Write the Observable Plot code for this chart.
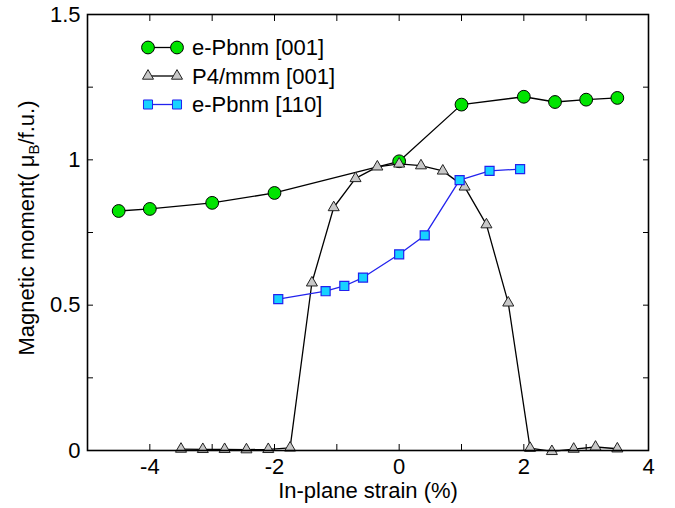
<!DOCTYPE html>
<html><head><meta charset="utf-8">
<script src="https://cdn.jsdelivr.net/npm/d3@7"></script>
<script src="https://cdn.jsdelivr.net/npm/@observablehq/plot@0.6"></script>
<style>body{margin:0;background:#fff}</style>
</head><body><div id="chart"></div>
<script>
// ---- data ----
const seriesNames = ["e-Pbnm [001]", "P4/mmm [001]", "e-Pbnm [110]"];
const pbnm001Strain = [-4.5, -4, -3, -2, 0, 1, 2, 2.5, 3, 3.5];
const pbnm001Moment = [0.824, 0.831, 0.852, 0.886, 0.995, 1.19, 1.217, 1.199, 1.207, 1.213];
const p4mmmStrain = [-3.5, -3.15, -2.8, -2.45, -2.1, -1.75, -1.4, -1.05, -0.7, -0.35, 0, 0.35, 0.7, 1.05, 1.4, 1.75, 2.1, 2.45, 2.8, 3.15, 3.5];
const p4mmmMoment = [0.005, 0.004, 0.004, 0.003, 0.004, 0.009, 0.577, 0.836, 0.936, 0.976, 0.986, 0.980, 0.962, 0.907, 0.777, 0.508, 0.008, -0.003, 0.005, 0.012, 0.006];
const pbnm110Strain = [-1.94, -1.18, -0.88, -0.58, 0, 0.41, 0.97, 1.45, 1.94];
const pbnm110Moment = [0.521, 0.548, 0.566, 0.595, 0.675, 0.74, 0.93, 0.962, 0.968];
const xMajorTicks = [-4, -2, 0, 2, 4];
const xMinorTicks = [-4, -3, -2, -1, 0, 1, 2, 3];
const yMajorTicks = [0, 0.5, 1, 1.5];
const yMinorTicks = [0, 0.25, 0.5, 0.75, 1, 1.25];
const xLabel = "In-plane strain (%)";
const yLabelParts = ["Magnetic moment( \u03bc", "B", "/f.u.)"];

const toRows = (xs, ys) => xs.map((x, i) => ({strain: x, moment: ys[i]}));
const s001 = toRows(pbnm001Strain, pbnm001Moment);
const sP4 = toRows(p4mmmStrain, p4mmmMoment);
const s110 = toRows(pbnm110Strain, pbnm110Moment);

const GREEN = "#00e400", GRAY = "#c8c8c8", CYAN = "#16d2ff", BLUE = "#2222ee";
const FONT = "'Liberation Sans', Arial, Helvetica, sans-serif";
const FS = 22;

const plot = Plot.plot({
  width: 675, height: 508,
  marginLeft: 87, marginRight: 27, marginTop: 14, marginBottom: 58,
  style: {fontFamily: FONT, fontSize: FS + "px", background: "white", color: "black"},
  x: {domain: [-5, 4], label: null},
  y: {domain: [0, 1.5], label: null},
  marks: [
    Plot.axisX({anchor: "bottom", ticks: xMinorTicks, tickSize: -6, tickFormat: () => "", label: null}),
    Plot.axisX({anchor: "top", ticks: xMinorTicks, tickSize: -6, tickFormat: () => "", label: null}),
    Plot.axisY({anchor: "left", ticks: yMinorTicks, tickSize: -6, tickFormat: () => "", label: null}),
    Plot.axisY({anchor: "right", ticks: yMinorTicks, tickSize: -6, tickFormat: () => "", label: null}),
    Plot.axisX({anchor: "bottom", ticks: xMajorTicks, tickSize: 0, tickPadding: 8, tickFormat: d => String(d), label: null, fontSize: FS}),
    Plot.axisY({anchor: "left", ticks: yMajorTicks, tickSize: 0, tickPadding: 7, tickFormat: d => String(d), label: null, fontSize: FS}),
    Plot.text([xLabel], {frameAnchor: "bottom", dy: 47, text: d => d, fontSize: FS}),
    Plot.line(s001, {x: "strain", y: "moment", stroke: "black", strokeWidth: 1.3}),
    Plot.dot(s001, {x: "strain", y: "moment", r: 6.4, fill: GREEN, stroke: "black", strokeWidth: 1}),
    Plot.line(sP4, {x: "strain", y: "moment", stroke: "black", strokeWidth: 1.3}),
    Plot.dot(sP4, {x: "strain", y: "moment", symbol: "triangle", r: 4.1, fill: GRAY, stroke: "#222", strokeWidth: 1}),
    Plot.line(s110, {x: "strain", y: "moment", stroke: BLUE, strokeWidth: 1.3}),
    Plot.dot(s110, {x: "strain", y: "moment", symbol: "square", r: 5.1, fill: CYAN, stroke: BLUE, strokeWidth: 1.2}),
    Plot.frame({stroke: "black", strokeWidth: 1.6})
  ]
});

document.getElementById("chart").appendChild(plot);

// ---- legend and y label (layout) ----
const svg = d3.select(plot);
const legend = [
  {name: seriesNames[0], cy: 47.5, sym: d3.symbolCircle, size: Math.PI * 6.4 * 6.4, fill: GREEN, stroke: "black", line: "black"},
  {name: seriesNames[1], cy: 76, sym: d3.symbolTriangle, size: Math.PI * 4.1 * 4.1, fill: GRAY, stroke: "#222", line: "black"},
  {name: seriesNames[2], cy: 104.5, sym: d3.symbolSquare, size: Math.PI * 5.1 * 5.1, fill: CYAN, stroke: BLUE, line: BLUE}
];
const lg = svg.append("g").attr("font-family", FONT).attr("font-size", FS).attr("text-anchor", "start");
legend.forEach(e => {
  lg.append("line").attr("x1", 148).attr("x2", 177).attr("y1", e.cy).attr("y2", e.cy)
    .attr("stroke", e.line).attr("stroke-width", 1.3);
  [148, 177].forEach(cx => {
    lg.append("path").attr("d", d3.symbol(e.sym, e.size)())
      .attr("transform", `translate(${cx},${e.cy})`)
      .attr("fill", e.fill).attr("stroke", e.stroke).attr("stroke-width", 1);
  });
  lg.append("text").attr("x", 192).attr("y", e.cy).attr("dy", "0.35em")
    .attr("text-anchor", "start").attr("fill", "black").text(e.name);
});

const yl = svg.append("text")
  .attr("transform", "translate(34,228) rotate(-90)")
  .attr("text-anchor", "middle")
  .attr("font-family", FONT).attr("font-size", FS).attr("fill", "black");
yl.append("tspan").text(yLabelParts[0]);
yl.append("tspan").attr("font-size", 15).attr("dy", 5).text(yLabelParts[1]);
yl.append("tspan").attr("dy", -5).text(yLabelParts[2]);
</script>
</body></html>
